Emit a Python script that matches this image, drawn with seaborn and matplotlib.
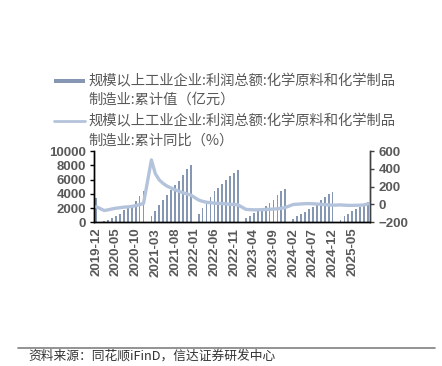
import numpy as np
import pandas as pd
import matplotlib
matplotlib.use("Agg")
import matplotlib.pyplot as plt
import seaborn as sns
from matplotlib.lines import Line2D
from matplotlib.patches import Rectangle

nan = np.nan
months = [p.strftime("%Y-%m") for p in pd.period_range("2019-12", "2025-09", freq="M")]

# 累计值（亿元）
profit = [3450,
          nan, 140, 300, 550, 900, 1200, 1700, 2000, 2300, 2950, 3650, 4350,
          nan, 890, 1630, 2430, 3130, 3830, 4530, 5230, 5840, 6680, 7430, 8030,
          nan, 1170, 1960, 2660, 3600, 4390, 4860, 5420, 5930, 6490, 6910, 7330,
          nan, 560, 940, 1270, 1700, 1970, 2350, 2680, 3150, 3760, 4320, 4700,
          nan, 450, 850, 1150, 1450, 1800, 2150, 2600, 3100, 3500, 3900, 4300,
          nan, 380, 850, 1170, 1550, 1880, 2200, 2490, 2850]

# 累计同比（%）
yoy = [-25,
       nan, -68, -60, -50, -42, -36, -30, -27, -22, -13, -2, 12,
       nan, 500, 345, 275, 235, 205, 185, 165, 148, 132, 118, 105,
       nan, 50, 35, 25, 20, 15, 12, 10, 6, 3, 0, -5,
       nan, -55, -58, -60, -60, -58, -56, -54, -52, -48, -42, -34,
       nan, 0, 3, 6, 9, 10, 8, 5, 2, -2, -5, -8,
       nan, -5, -8, -10, -10, -9, -8, -5, 8]

left_ticks = [0, 2000, 4000, 6000, 8000, 10000]
right_ticks = [-200, 0, 200, 400, 600]

label1 = ["规模以上工业企业:利润总额:化学原料和化学制品", "制造业:累计值（亿元）"]
label2 = ["规模以上工业企业:利润总额:化学原料和化学制品", "制造业:累计同比（%）"]
source = "资料来源：同花顺iFinD，信达证券研发中心"

bar_color = "#8597b2"
line_color = "#b4c3dc"
tick_color = "#595959"

df = pd.DataFrame({"month": months, "profit": profit, "yoy": yoy})
df["pos"] = np.arange(len(df))

sns.set_theme(style="white")
plt.rcParams["font.family"] = ["Liberation Sans", "Noto Sans CJK SC", "DejaVu Sans"]

W, H = 442, 366
fig = plt.figure(figsize=(W / 100, H / 100), dpi=100)
fig.subplots_adjust(left=94.3 / W, right=370 / W, top=1 - 151 / H, bottom=1 - 222.3 / H)
ax = fig.add_subplot(111)

sns.barplot(data=df, x="month", y="profit", order=months, color=bar_color,
            saturation=1, width=0.45, errorbar=None, ax=ax, linewidth=0)
ax2 = ax.twinx()
sns.lineplot(data=df.dropna(subset=["yoy"]), x="pos", y="yoy", ax=ax2,
             color=line_color, linewidth=2.4)

ax.set_xlim(-0.5, len(months) - 0.5)
ax.set_ylim(0, 10000)
ax2.set_ylim(-200, 600)
ax.set_yticks(left_ticks)
ax2.set_yticks(right_ticks)
ax.set_xticks(range(0, len(months), 5))
ax.set_xticklabels(months[::5], rotation=90)
ax.set_xticks(np.arange(-0.5, len(months), 5), minor=True)
ax.tick_params(axis="x", which="major", length=0, pad=4)
ax.tick_params(axis="x", which="minor", length=5, width=1, direction="inout", color="black")
ax.tick_params(axis="y", length=3, width=1, color="black", direction="out", pad=3, left=True)
ax2.tick_params(axis="y", length=3, width=1, color="#404040", direction="out", pad=3, right=True)
for a in (ax, ax2):
    a.set_xlabel("")
    a.set_ylabel("")
    for lab in a.get_xticklabels() + a.get_yticklabels():
        lab.set_fontsize(9.5)
        lab.set_fontweight("bold")
        lab.set_color(tick_color)
    a.spines["top"].set_visible(False)
    a.grid(False)
for a in (ax, ax2):
    a.spines["left"].set_color("black")
    a.spines["bottom"].set_color("black")
    a.spines["right"].set_color("#404040")
    a.spines["left"].set_linewidth(1)
    a.spines["bottom"].set_linewidth(1)
    a.spines["right"].set_linewidth(1)
ax.set_facecolor("none")
ax2.set_facecolor("none")

def fx(x):
    return x / W

def fy(y):
    return 1 - y / H

cjk = ["Noto Sans CJK SC", "DejaVu Sans"]
# legend (manual)
fig.add_artist(Rectangle((fx(54), fy(83)), fx(85) - fx(54), 4 / H, transform=fig.transFigure,
                         facecolor=bar_color, edgecolor="none"))
fig.add_artist(Line2D([fx(54), fx(85)], [fy(121), fy(121)], transform=fig.transFigure,
                      color=line_color, linewidth=2))
for yy, txt in zip([81, 100, 121, 141], label1 + label2):
    fig.text(fx(88), fy(yy), txt, fontsize=10.3, color=tick_color, family=cjk,
             ha="left", va="center")

# footer
fig.add_artist(Line2D([fx(18), fx(435)], [fy(348), fy(348)], transform=fig.transFigure,
                      color="#808080", linewidth=1.2))
fig.text(fx(28), fy(356), source, fontsize=9.2, color="#333333", family=cjk,
         style="italic", ha="left", va="center")

fig.savefig("out.png", dpi=100)
